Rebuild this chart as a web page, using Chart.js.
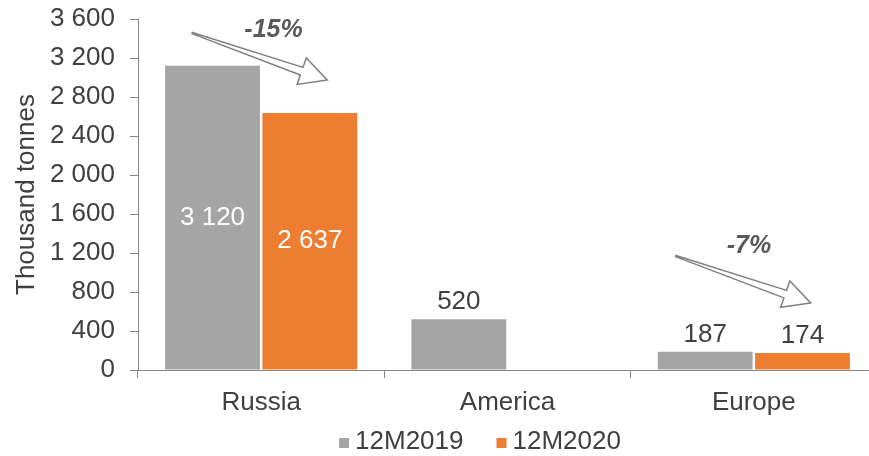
<!DOCTYPE html>
<html>
<head>
<meta charset="utf-8">
<script src="https://cdn.jsdelivr.net/npm/chart.js@4.4.1/dist/chart.umd.min.js"></script>
<style>
  html, body { margin: 0; padding: 0; background: #fff; overflow: hidden; }
  canvas { display: block; }
</style>
</head>
<body>
<canvas id="chart" width="880" height="456"></canvas>
<script>
// chart data
const categories = ['Russia', 'America', 'Europe'];
const seriesNames = ['12M2019', '12M2020'];
const values2019 = [3120, 520, 187];
const values2020 = [2637, null, 174];
const yMax = 3600;
const yStep = 400;
const changeLabels = ['-15%', '-7%'];

const seriesColors = ['#a5a5a5', '#ed7d31'];
const textColor = '#404040';
const axisColor = '#868686';
const FONT = '"Liberation Sans", Arial, sans-serif';
const FS = 26;

// arrow annotations, anchored in data space (category index, value)
const changeNotes = [
  { label: changeLabels[0], text: { x: 0.05, y: 3490 }, tail: { x: -0.28, y: 3456 }, tip: { x: 0.268, y: 2974 } },
  { label: changeLabels[1], text: { x: 1.98, y: 1270 }, tail: { x: 1.683, y: 1169 }, tip: { x: 2.231, y: 687 } }
];

const fmt = v => String(v).replace(/\B(?=(\d{3})+(?!\d))/g, ' ');

const bgPlugin = {
  id: 'bg',
  beforeDraw(chart) {
    const ctx = chart.ctx;
    ctx.save();
    ctx.fillStyle = '#fff';
    ctx.fillRect(0, 0, chart.width, chart.height);
    ctx.restore();
  }
};

// values: inside white for the tall bars, above the bar for the short ones
const valueLabelPlugin = {
  id: 'valueLabels',
  afterDatasetsDraw(chart) {
    const ctx = chart.ctx;
    ctx.save();
    ctx.font = FS + 'px ' + FONT;
    ctx.textAlign = 'center';
    chart.data.datasets.forEach((ds, i) => {
      chart.getDatasetMeta(i).data.forEach((bar, j) => {
        const v = ds.data[j];
        if (v == null) return;
        if (v > 1000) {
          ctx.fillStyle = '#fff';
          ctx.textBaseline = 'middle';
          ctx.fillText(fmt(v), bar.x, (bar.y + bar.base) / 2);
        } else {
          ctx.fillStyle = textColor;
          ctx.textBaseline = 'alphabetic';
          ctx.fillText(fmt(v), bar.x, bar.y - 10);
        }
      });
    });
    ctx.restore();
  }
};

const arrowPlugin = {
  id: 'arrows',
  afterDatasetsDraw(chart) {
    const { ctx, scales: { x, y } } = chart;
    const px = p => ({ x: x.getPixelForValue(p.x), y: y.getPixelForValue(p.y) });
    ctx.save();
    changeNotes.forEach(note => {
      const T = px(note.tail), P = px(note.tip);
      const dx = P.x - T.x, dy = P.y - T.y;
      const L = Math.hypot(dx, dy);
      const ux = dx / L, uy = dy / L, nx = -uy, ny = ux;
      const hl = 27, hw = 14, sw = 4, tw = 0.6;
      const bx = T.x + ux * (L - hl), by = T.y + uy * (L - hl);
      ctx.beginPath();
      ctx.moveTo(T.x - nx * tw, T.y - ny * tw);
      ctx.lineTo(bx - nx * sw, by - ny * sw);
      ctx.lineTo(bx - nx * hw, by - ny * hw);
      ctx.lineTo(P.x, P.y);
      ctx.lineTo(bx + nx * hw, by + ny * hw);
      ctx.lineTo(bx + nx * sw, by + ny * sw);
      ctx.lineTo(T.x + nx * tw, T.y + ny * tw);
      ctx.closePath();
      ctx.fillStyle = '#fff';
      ctx.fill();
      ctx.strokeStyle = '#7f7f7f';
      ctx.lineWidth = 1.5;
      ctx.lineJoin = 'miter';
      ctx.stroke();

      const L2 = px(note.text);
      ctx.font = 'italic bold 25px ' + FONT;
      ctx.fillStyle = '#595959';
      ctx.textAlign = 'center';
      ctx.textBaseline = 'middle';
      ctx.fillText(note.label, L2.x, L2.y);
    });
    ctx.restore();
  }
};

// legend drawn by hand so it can sit where the original has it
const legendPlugin = {
  id: 'customLegend',
  afterDraw(chart) {
    const ctx = chart.ctx;
    const cx = 480, cy = 442, box = 10, gap = 6, spacing = 33;
    ctx.save();
    ctx.font = FS + 'px ' + FONT;
    ctx.textBaseline = 'middle';
    ctx.textAlign = 'left';
    const items = chart.data.datasets.map(ds => ({ label: ds.label, color: ds.backgroundColor, w: box + gap + ctx.measureText(ds.label).width }));
    const total = items.reduce((s, it) => s + it.w, 0) + spacing * (items.length - 1);
    let xPos = cx - total / 2;
    items.forEach(it => {
      ctx.fillStyle = it.color;
      ctx.fillRect(xPos, cy - box / 2 + 1, box, box);
      ctx.fillStyle = textColor;
      ctx.fillText(it.label, xPos + box + gap, cy);
      xPos += it.w + spacing;
    });
    ctx.restore();
  }
};

new Chart(document.getElementById('chart'), {
  type: 'bar',
  data: {
    labels: categories,
    datasets: [
      { label: seriesNames[0], data: values2019, backgroundColor: seriesColors[0] },
      { label: seriesNames[1], data: values2020, backgroundColor: seriesColors[1] }
    ]
  },
  options: {
    responsive: false,
    devicePixelRatio: 1,
    animation: false,
    layout: { padding: { top: 19, right: 3, bottom: 0, left: 0 } },
    datasets: { bar: { categoryPercentage: 0.79, barPercentage: 0.975 } },
    plugins: {
      legend: { display: false },
      tooltip: { enabled: false }
    },
    scales: {
      x: {
        afterFit: s => { s.height = 86; s.paddingLeft = 0; s.paddingRight = 0; },
        border: { display: true, color: axisColor, width: 1 },
        grid: { display: true, drawOnChartArea: false, drawTicks: true, tickLength: 8, color: axisColor, offset: true },
        ticks: { color: textColor, font: { family: FONT, size: FS }, padding: 9 }
      },
      y: {
        min: 0,
        max: yMax,
        afterFit: s => { s.width = 138; s.paddingTop = 0; s.paddingBottom = 0; },
        border: { display: true, color: axisColor, width: 1 },
        grid: { display: true, drawOnChartArea: false, drawTicks: true, tickLength: 8, color: axisColor },
        ticks: { stepSize: yStep, color: textColor, font: { family: FONT, size: FS }, padding: 15, callback: v => fmt(v) },
        title: { display: true, text: 'Thousand tonnes', color: textColor, font: { family: FONT, size: FS }, padding: { top: 11, bottom: 0 } }
      }
    }
  },
  plugins: [bgPlugin, valueLabelPlugin, arrowPlugin, legendPlugin]
});
</script>
</body>
</html>
